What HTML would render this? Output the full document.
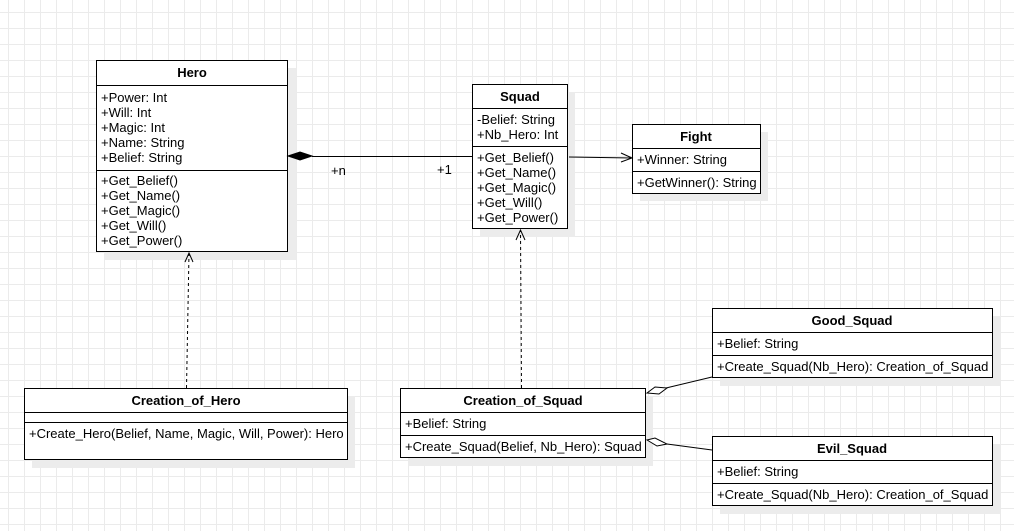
<!DOCTYPE html>
<html><head><meta charset="utf-8"><style>
html,body{margin:0;padding:0;background:#fff}
svg{display:block}
text{font-family:"Liberation Sans",Arial,sans-serif;font-size:13px;fill:#000}
.b{font-weight:bold;text-anchor:middle}
</style></head><body>
<svg width="1014" height="531" viewBox="0 0 1014 531" xmlns="http://www.w3.org/2000/svg">
<defs>
<pattern id="g" x="8" y="12" width="16" height="16" patternUnits="userSpaceOnUse">
<path d="M0.5 0V16M0 0.5H16" stroke="#ebebeb" stroke-width="1" fill="none"/>
</pattern>
</defs>
<rect width="1014" height="531" fill="url(#g)"/>
<g fill="#ececec">
<rect x="104" y="68" width="192" height="192"/>
<rect x="480" y="92" width="95" height="145"/>
<rect x="640" y="132" width="128" height="69"/>
<rect x="32" y="396" width="323" height="72"/>
<rect x="408" y="396" width="245" height="70"/>
<rect x="720" y="316" width="280" height="70"/>
<rect x="720" y="444" width="280" height="70"/>
</g>
<g fill="#fff" stroke="#000" stroke-width="1">
<rect x="96.5" y="60.5" width="191" height="191"/>
<rect x="472.5" y="84.5" width="95" height="144"/>
<rect x="632.5" y="124.5" width="128" height="69"/>
<rect x="24.5" y="388.5" width="323" height="71"/>
<rect x="400.5" y="388.5" width="245" height="69"/>
<rect x="712.5" y="308.5" width="280" height="69"/>
<rect x="712.5" y="436.5" width="280" height="69"/>
</g>
<g stroke="#000" stroke-width="1">
<path d="M96 85.5H288M96 170.5H288"/>
<path d="M472 108.5H568M472 146.5H568"/>
<path d="M632 148.5H761M632 171.5H761"/>
<path d="M24 412.5H348M24 422.5H348"/>
<path d="M400 412.5H646M400 435.5H646"/>
<path d="M712 332.5H993M712 355.5H993"/>
<path d="M712 460.5H993M712 483.5H993"/>
</g>
<text class="b" x="192" y="77">Hero</text>
<text x="101" y="102">+Power: Int</text>
<text x="101" y="117">+Will: Int</text>
<text x="101" y="132">+Magic: Int</text>
<text x="101" y="147">+Name: String</text>
<text x="101" y="162">+Belief: String</text>
<text x="101" y="185">+Get_Belief()</text>
<text x="101" y="200">+Get_Name()</text>
<text x="101" y="215">+Get_Magic()</text>
<text x="101" y="230">+Get_Will()</text>
<text x="101" y="245">+Get_Power()</text>
<text class="b" x="520" y="101">Squad</text>
<text x="477" y="124">-Belief: String</text>
<text x="477" y="139">+Nb_Hero: Int</text>
<text x="477" y="162">+Get_Belief()</text>
<text x="477" y="177">+Get_Name()</text>
<text x="477" y="192">+Get_Magic()</text>
<text x="477" y="207">+Get_Will()</text>
<text x="477" y="222">+Get_Power()</text>
<text class="b" x="696" y="141">Fight</text>
<text x="637" y="164">+Winner: String</text>
<text x="637" y="187">+GetWinner(): String</text>
<text class="b" x="186" y="405">Creation_of_Hero</text>
<text x="29" y="438">+Create_Hero(Belief, Name, Magic, Will, Power): Hero</text>
<text class="b" x="523" y="405">Creation_of_Squad</text>
<text x="405" y="428">+Belief: String</text>
<text x="405" y="451">+Create_Squad(Belief, Nb_Hero): Squad</text>
<text class="b" x="852" y="325">Good_Squad</text>
<text x="717" y="348">+Belief: String</text>
<text x="717" y="371">+Create_Squad(Nb_Hero): Creation_of_Squad</text>
<text class="b" x="852" y="453">Evil_Squad</text>
<text x="717" y="476">+Belief: String</text>
<text x="717" y="499">+Create_Squad(Nb_Hero): Creation_of_Squad</text>
<g stroke="#000" stroke-width="1" fill="none">
<path d="M312 156.5H472"/>
<path d="M288 156 L300 152 L312 156 L300 160 Z" fill="#000"/>
<path d="M569 157 L632 158"/>
<path d="M621 153 L632 158 L621 162"/>
<path d="M186.5 388 L189 253" stroke-dasharray="3,3"/>
<path d="M185 262 L189 253 L193 262"/>
<path d="M521.5 388 L520.5 230" stroke-dasharray="3,3"/>
<path d="M516 240 L520.5 230 L525 240"/>
<path d="M712 377 L666 388"/>
<path d="M647 393 L655 387 L667 388 L659 394 Z" fill="#fff"/>
<path d="M712 450 L667 444"/>
<path d="M647 440 L655 438 L667 444 L657 446 Z" fill="#fff"/>
</g>
<text x="331" y="175">+n</text>
<text x="437" y="174">+1</text>
</svg>
</body></html>
